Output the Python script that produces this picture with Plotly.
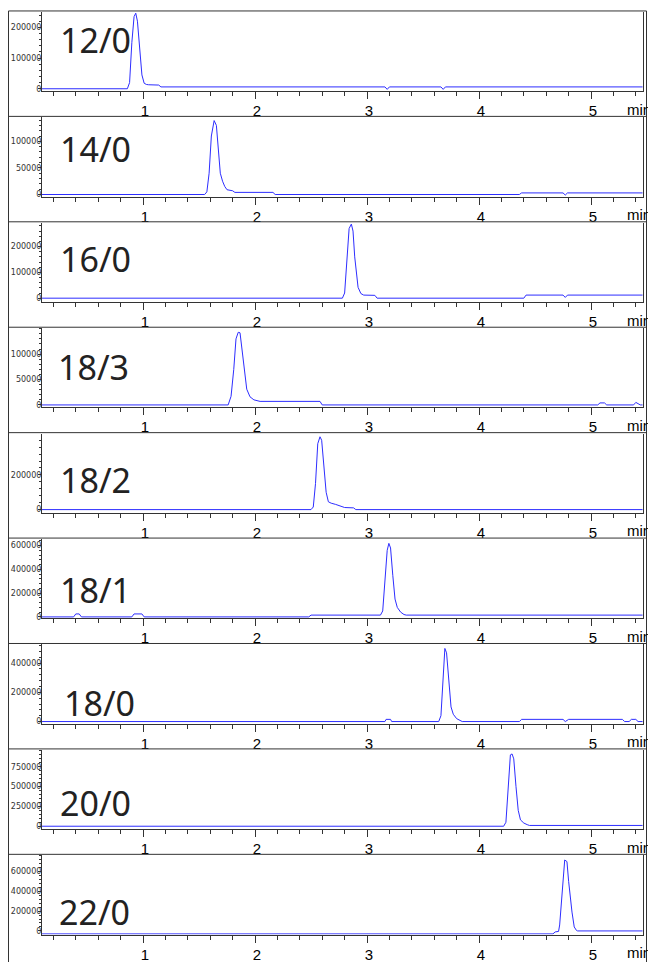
import plotly.graph_objects as go

W, H = 648, 965

# ---------------- data ----------------
panel_names = ["12/0", "14/0", "16/0", "18/3", "18/2", "18/1", "18/0", "20/0", "22/0"]

t_12_0 = [0.098, 0.86, 0.88, 0.90, 0.92, 0.935, 0.95, 0.97, 0.99, 1.01, 1.03, 1.05, 1.14, 1.16,
          3.16, 3.18, 3.20, 3.66, 3.68, 3.70, 5.46]
i_12_0 = [0, 0, 20000, 150000, 235000, 246000, 220000, 120000, 45000, 18000, 14000, 13000, 12000, 6000,
          6000, -2000, 6000, 6000, -2000, 6000, 6000]

t_14_0 = [0.098, 1.55, 1.57, 1.59, 1.61, 1.635, 1.655, 1.67, 1.69, 1.71, 1.73, 1.75, 1.80, 1.82, 2.16, 2.18,
          4.36, 4.38, 4.75, 4.77, 4.79, 5.46]
i_14_0 = [0, 0, 5000, 40000, 110000, 139000, 130000, 85000, 40000, 25000, 15000, 9000, 7000, 4000, 4000, 0,
          0, 3000, 3000, -1000, 3000, 3000]

t_16_0 = [0.098, 2.78, 2.80, 2.82, 2.84, 2.86, 2.875, 2.89, 2.905, 2.92, 2.945, 2.97, 3.07, 3.09,
          4.40, 4.42, 4.75, 4.77, 4.79, 5.46]
i_16_0 = [0, 0, 20000, 130000, 270000, 287000, 260000, 160000, 88000, 42000, 18000, 12000, 11000, 0,
          0, 12000, 12000, 3000, 12000, 12000]

t_18_3 = [0.098, 1.76, 1.786, 1.81, 1.83, 1.85, 1.866, 1.88, 1.896, 1.926, 1.955, 1.99, 2.045, 2.58, 2.60,
          5.06, 5.08, 5.12, 5.14, 5.38, 5.40, 5.42, 5.44, 5.46]
i_18_3 = [0, 0, 17000, 70000, 130000, 143000, 142000, 115000, 84000, 31000, 16000, 10000, 7000, 7000, 0,
          0, 4000, 4000, 0, 0, 5000, 3000, 0, 0]

t_18_2 = [0.098, 2.50, 2.52, 2.54, 2.56, 2.58, 2.595, 2.615, 2.635, 2.655, 2.68, 2.72, 2.76, 2.80, 2.88, 2.90, 5.46]
i_18_2 = [0, 0, 15000, 150000, 380000, 420000, 400000, 250000, 100000, 45000, 37000, 30000, 20000, 12000,
          10000, 0, 0]

t_18_1 = [0.098, 0.38, 0.40, 0.43, 0.45, 0.90, 0.92, 0.99, 1.01, 2.48, 2.50, 3.12, 3.14, 3.16, 3.18, 3.195,
          3.21, 3.23, 3.25, 3.27, 3.30, 3.33, 3.35, 5.46]
i_18_1 = [0, 0, 25000, 25000, 0, 0, 25000, 25000, 0, 0, 15000, 15000, 50000, 300000, 560000, 619000,
          580000, 350000, 150000, 80000, 40000, 20000, 15000, 15000]

t_18_0 = [0.098, 3.16, 3.17, 3.21, 3.22, 3.64, 3.66, 3.68, 3.695, 3.71, 3.73, 3.75, 3.77, 3.80, 3.83, 3.85,
          4.36, 4.38, 4.75, 4.77, 4.80, 5.28, 5.30, 5.34, 5.36, 5.40, 5.42, 5.46]
i_18_0 = [0, 0, 15000, 15000, 0, 0, 40000, 300000, 500000, 470000, 250000, 100000, 50000, 20000, 8000, 0,
          0, 15000, 15000, 0, 15000, 15000, 0, 0, 15000, 15000, 0, 0]

t_20_0 = [0.098, 4.22, 4.24, 4.26, 4.28, 4.295, 4.31, 4.33, 4.35, 4.37, 4.40, 4.43, 4.45, 5.46]
i_20_0 = [0, 0, 50000, 500000, 900000, 912000, 850000, 500000, 200000, 80000, 40000, 20000, 10000, 10000]

t_22_0 = [0.098, 4.66, 4.68, 4.71, 4.72, 4.745, 4.765, 4.785, 4.80, 4.83, 4.85, 4.87, 4.88, 5.46]
i_22_0 = [-30000, -30000, -10000, -5000, 60000, 450000, 716000, 700000, 500000, 190000, 40000, 5000, 0, 0]

series_t = [t_12_0, t_14_0, t_16_0, t_18_3, t_18_2, t_18_1, t_18_0, t_20_0, t_22_0]
series_i = [i_12_0, i_14_0, i_16_0, i_18_3, i_18_2, i_18_1, i_18_0, i_20_0, i_22_0]

y_tickvals = [
    [0, 100000, 200000],
    [0, 50000, 100000],
    [0, 100000, 200000],
    [0, 50000, 100000],
    [0, 200000],
    [0, 200000, 400000, 600000],
    [0, 200000, 400000],
    [0, 250000, 500000, 750000],
    [0, 200000, 400000, 600000],
]
y_minor = [20000, 10000, 20000, 10000, 40000, 40000, 40000, 50000, 40000]
y_lo = [-8000, -4000, -15000, -5000, -19000, -12000, -15000, -37000, -37000]
y_hi = [250000, 145000, 292000, 151000, 438000, 655000, 527000, 963000, 763000]

x_range = [0.098, 5.464]

# ---------------- layout geometry (page pixels) ----------------
panel_h = 105.75
first_top = 11
plot_left, plot_right = 42, 643
frame_left, frame_right = 8.5, 646.5
label_x = [58, 58, 58, 56, 58, 58, 62, 58, 57]
label_y = [40, 149.5, 259.5, 368, 481, 591.7, 705.5, 805.5, 914.5]

def px(x):
    return x / W

def py(y):
    return 1 - y / H

line_col = "#333333"
trace_col = "rgb(45,45,255)"

fig = go.Figure()
layout = dict(
    width=W, height=H,
    margin=dict(l=0, r=0, t=0, b=0),
    paper_bgcolor="white", plot_bgcolor="white",
    showlegend=False,
)
shapes = []
annotations = []

for k in range(9):
    top = first_top + k * panel_h
    ptop = top + 1
    pbot = top + 80.5
    xn = "x" if k == 0 else f"x{k+1}"
    yn = "y" if k == 0 else f"y{k+1}"
    xk = "xaxis" if k == 0 else f"xaxis{k+1}"
    yk = "yaxis" if k == 0 else f"yaxis{k+1}"

    fig.add_trace(go.Scatter(x=series_t[k], y=series_i[k], mode="lines",
                             line=dict(color=trace_col, width=1), xaxis=xn, yaxis=yn,
                             hoverinfo="skip"))

    layout[xk] = dict(
        domain=[px(plot_left), px(plot_right)], range=x_range, anchor=yn,
        showline=True, linecolor=line_col, linewidth=1, mirror=False,
        ticks="outside", ticklen=7, tickcolor=line_col, tickwidth=1,
        tick0=0, dtick=1, ticklabelshift=2, ticklabelstandoff=-1,
        tickfont=dict(family="Liberation Sans", size=15, color="black"),
        minor=dict(ticks="outside", ticklen=4, tick0=0, dtick=0.2, tickcolor=line_col, tickwidth=1),
        showgrid=False, zeroline=False, fixedrange=True,
    )
    layout[yk] = dict(
        domain=[py(pbot), py(ptop)], range=[y_lo[k], y_hi[k]], anchor=xn,
        showline=True, linecolor=line_col, linewidth=1, mirror=True,
        ticks="outside", ticklen=3, tickcolor=line_col, tickwidth=1,
        tickmode="array", tickvals=y_tickvals[k], ticktext=[str(v) for v in y_tickvals[k]],
        ticklabelstandoff=-5,
        tickfont=dict(family="DejaVu Sans", size=8, color="#333333"),
        minor=dict(ticks="outside", ticklen=2, tick0=0, dtick=y_minor[k], tickcolor=line_col, tickwidth=1),
        showgrid=False, zeroline=False, fixedrange=True,
    )

    # panel separator line
    shapes.append(dict(type="line", xref="paper", yref="paper",
                       x0=px(frame_left), x1=px(frame_right), y0=py(top), y1=py(top),
                       line=dict(color=line_col, width=1)))
    # big label
    annotations.append(dict(xref="paper", yref="paper", x=px(label_x[k]), y=py(label_y[k]),
                            xanchor="left", yanchor="middle", showarrow=False,
                            text=panel_names[k],
                            font=dict(family="Noto Sans", size=34, color="#222222")))
    # "min" unit label
    annotations.append(dict(xref="paper", yref="paper", x=px(625), y=py(pbot + 18),
                            xanchor="left", yanchor="middle", showarrow=False, text="min",
                            font=dict(family="Liberation Sans", size=15, color="black")))

# outer verticals
shapes.append(dict(type="line", xref="paper", yref="paper", x0=px(frame_left), x1=px(frame_left),
                   y0=py(first_top), y1=0, line=dict(color=line_col, width=1)))
shapes.append(dict(type="line", xref="paper", yref="paper", x0=px(frame_right), x1=px(frame_right),
                   y0=py(first_top), y1=0, line=dict(color=line_col, width=1)))

layout["shapes"] = shapes
layout["annotations"] = annotations
fig.update_layout(**layout)
fig.write_html("out.html", config={"displayModeBar": False},
               post_script="document.body.style.margin='0';document.body.style.overflow='hidden';")
